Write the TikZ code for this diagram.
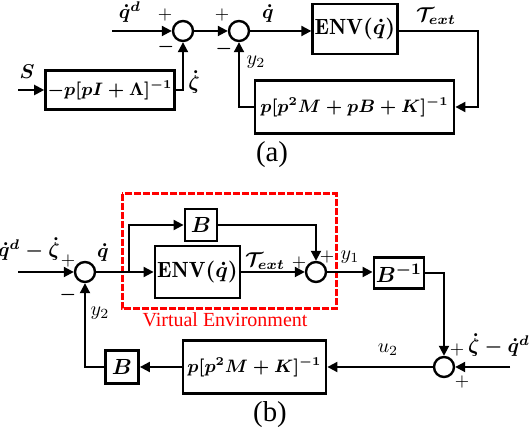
\documentclass[tikz,border=0pt]{standalone}
\usepackage{amsmath,amssymb}
\usepackage{fontspec}
\newfontfamily\timesfont{Liberation Serif}
\usepackage{tikz}
\usetikzlibrary{arrows.meta,calc}
\begin{document}
\begin{tikzpicture}[line join=miter,>={Triangle[length=5pt,width=5pt]},x=0.5pt,y=-0.5pt,
    blk/.style={draw,line width=1.4pt,inner sep=1pt,font=\fontsize{9.2}{11}\selectfont\boldmath},
    bigblk/.style={blk,font=\fontsize{11}{13}\selectfont\boldmath},
    sumnode/.style={draw,circle,line width=1.2pt,minimum size=10pt,inner sep=0pt},
    sig/.style={line width=1pt},
    lbl/.style={font=\fontsize{10}{12}\selectfont\boldmath,inner sep=1pt},
    lblthin/.style={font=\normalsize,inner sep=1pt},
    sgn/.style={font=\small,inner sep=0pt}]
\useasboundingbox (0,0) rectangle (531,431);
% (a)
\node[sumnode] (sA1) at (183,31) {};
\node[sumnode] (sA2) at (239,31) {};
\node[bigblk,minimum width=42pt,minimum height=25pt] (envA) at (355,29) {$\mathrm{ENV}(\dot q)$};
\node[blk,minimum width=63pt,minimum height=19.5pt] (lamA) at (110,90) {$-p[pI+\Lambda]^{-1}$};
\node[blk,minimum width=99.5pt,minimum height=26.5pt] (fbA) at (354.5,107) {$p[p^2M+pB+K]^{-1}$};
\coordinate (qdA) at (112,31);
\coordinate (inA) at (18,90);
\coordinate (cA) at (478,31);
\draw[sig,->] (qdA) -- (sA1);
\draw[sig,->] (inA) -- (lamA.west);
\draw[sig,->] (lamA.east) -| (sA1);
\draw[sig,->] (sA1) -- (sA2);
\draw[sig,->] (sA2) -- (sA2 -| envA.west);
\draw[sig,->] (envA.east |- cA) -- (cA) |- (fbA.east);
\draw[sig,->] (fbA.west) -| (sA2);
\node[lbl] (lqdA) at (130,12) {$\dot q^d$};
\node[lbl] (lS) at (27,72) {$S$};
\node[lbl] (lzA) at (194,82) {$\dot\zeta$};
\node[lbl] (lqA) at (268,14) {$\dot q$};
\node[lbl] (ltA) at (436,16) {$\mathcal{T}_{ext}$};
\node[lblthin] (ly2A) at (256,62) {$y_2$};
\node[sgn] (pA1) at (165,15) {$+$};
\node[sgn] (mA1) at (166,47) {$\boldsymbol{-}$};
\node[sgn] (pA2) at (222,15) {$+$};
\node[sgn] (mA2) at (224,49) {$\boldsymbol{-}$};
\node[font=\timesfont\Large] (capA) at (272,155) {(a)};
% (b)
\node[sumnode] (sB1) at (85,272) {};
\coordinate (qB) at (129,272);
\node[bigblk,minimum width=16pt,minimum height=16pt] (bB) at (201,225) {$B$};
\node[bigblk,minimum width=42.5pt,minimum height=26pt] (envB) at (197.5,272) {$\mathrm{ENV}(\dot q)$};
\node[sumnode] (sB2) at (316,272) {};
\node[bigblk,minimum width=24.5pt,minimum height=15.5pt] (binvB) at (399,273) {$B^{-1}$};
\node[sumnode] (sB3) at (444,367) {};
\node[blk,minimum width=71.5pt,minimum height=26.5pt] (fbB) at (254.5,367) {$p[p^2M+K]^{-1}$};
\node[bigblk,minimum width=16.5pt,minimum height=16.5pt] (b2B) at (122,367) {$B$};
\coordinate (inB) at (18,272);
\coordinate (inB2) at (510,367);
\draw[red,line width=1.5pt,dash pattern=on 3.5pt off 1pt] (122,194) rectangle (336,309);
\draw[sig,->] (inB) -- (sB1);
\draw[sig] (sB1) -- (qB);
\draw[sig,->] (qB) -- (envB);
\draw[sig,->] (qB) |- (bB);
\draw[sig,->] (bB) -| (sB2);
\draw[sig,->] (envB) -- (sB2);
\draw[sig,->] (sB2) -- (sB2 -| binvB.west);
\draw[sig,->] (binvB) -| (sB3);
\draw[sig,->] (inB2) -- (sB3);
\draw[sig,->] (sB3) -- (fbB);
\draw[sig,->] (fbB) -- (b2B);
\draw[sig,->] (b2B) -| (sB1);
\node[lbl] (lqdB) at (29,249) {$\dot q^d-\dot\zeta$};
\node[lbl] (lqB) at (103,253) {$\dot q$};
\node[lbl] (ltB) at (265,261) {$\mathcal{T}_{ext}$};
\node[lblthin] (ly1B) at (350,257) {$y_1$};
\node[lblthin] (ly2B) at (100,313) {$y_2$};
\node[lblthin] (lu2B) at (388,350) {$u_2$};
\node[lbl] (lzB) at (499,345) {$\dot\zeta-\dot q^d$};
\node[sgn] (pB1) at (68,261) {$+$};
\node[sgn] (mB1) at (68,295) {$\boldsymbol{-}$};
\node[sgn] (pB2) at (299,263) {$+$};
\node[sgn] (pB3) at (327,257) {$+$};
\node[sgn] (pB4) at (457,350) {$+$};
\node[sgn] (pB5) at (462,382) {$+$};
\node[font=\timesfont\normalsize,red] (venv) at (225,320) {Virtual Environment};
\node[font=\timesfont\Large] (capB) at (270,415) {(b)};
\end{tikzpicture}
\end{document}
